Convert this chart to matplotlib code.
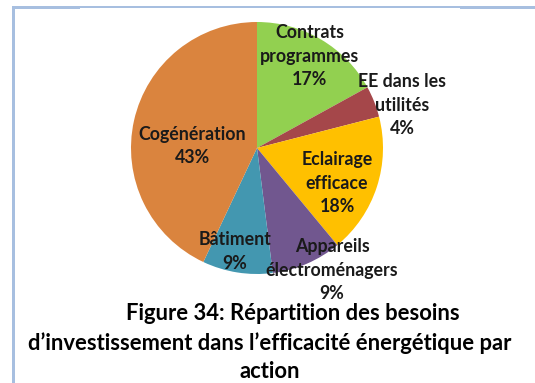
import matplotlib.pyplot as plt
from matplotlib.patches import Rectangle

# Besoins d'investissement par action (%), dans le sens horaire depuis le haut
actions = ["Contrats\nprogrammes", "EE dans les\nutilités", "Eclairage\nefficace",
           "Appareils\nélectroménagers", "Bâtiment", "Cogénération"]
parts = [17, 4, 18, 9, 9, 43]
colours = ["#92D050", "#A5474A", "#FFC000", "#71578F", "#4397B0", "#DA843E"]

# positions des étiquettes (unités du rayon)
label_pos = [(0.42, 0.73), (1.15, 0.34), (0.635, -0.28),
             (0.595, -0.97), (-0.175, -0.82), (-0.516, 0.016)]

title_lines = ["Figure 34: Répartition des besoins",
               "d’investissement dans l’efficacité énergétique par",
               "action"]

W, H = 535, 383
plt.rcParams["font.family"] = ["Lato", "DejaVu Sans"]

fig = plt.figure(figsize=(W / 100, H / 100), dpi=100)
fig.patch.set_facecolor("white")

cx, cy, r = 257, 148, 126
ax = fig.add_axes([(cx - r) / W, (H - cy - r) / H, 2 * r / W, 2 * r / H])
ax.pie(parts, colors=colours, startangle=90, counterclock=False,
       radius=1, wedgeprops=dict(linewidth=0))
ax.set_xlim(-1, 1)
ax.set_ylim(-1, 1)
ax.set_aspect("equal")
ax.axis("off")

for name, val, (x, y) in zip(actions, parts, label_pos):
    ax.text(x, y, f"{name}\n{val}%", ha="center", va="center",
            fontsize=12.8, fontweight="bold", color="#1a1a1a",
            linespacing=1.48, clip_on=False)

# légende de la figure
for line, xp, yp in zip(title_lines, [293, 270, 270], [314, 343, 372]):
    fig.text(xp / W, 1 - yp / H, line, ha="center", va="center",
             fontsize=15.8, fontweight="bold", color="black")

# cadre bleu clair (gauche et haut)
border = "#A7BFE0"
def px_rect(x0, y0, x1, y1):
    fig.add_artist(Rectangle((x0 / W, 1 - y1 / H), (x1 - x0) / W, (y1 - y0) / H,
                             transform=fig.transFigure, color=border, lw=0))

px_rect(12, 6, 15, H)
px_rect(12, 6, 80, 9)
px_rect(80, 6, 460, 7.5)
px_rect(460, 6, W, 9)

fig.savefig("out.png", dpi=100)
